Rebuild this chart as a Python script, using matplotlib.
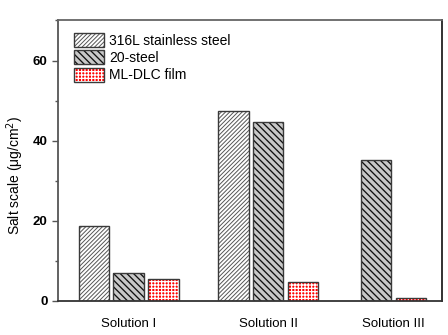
import numpy as np
import matplotlib
matplotlib.use("Agg")
import matplotlib.pyplot as plt
from matplotlib.patches import Patch
from matplotlib.ticker import MultipleLocator

plt.rcParams['font.family'] = ['Liberation Sans', 'DejaVu Sans']
plt.rcParams['hatch.linewidth'] = 0.9

# salt scale per solution, ug/cm^2 (no 316L result for Solution III)
solutions = ["Solution I", "Solution II", "Solution III"]
steel_316l = [18.6, 47.4, None]
steel_20 = [7.1, 44.7, 35.2]
ml_dlc = [5.4, 4.8, 0.8]

group_x = [0.0, 1.0, 1.9]
width = 0.22
step = 0.25
edge = "#3a3a3a"

# face, hatch, hatch colour, hatch linewidth
styles = [("white", "////////", "#555555", 0.7),
          ("#c8c8c8", "\\\\\\\\\\", "#111111", 0.95),
          ("#ff0000", "+++++", "white", 0.9)]

fig = plt.figure(figsize=(4.48, 3.35), dpi=100)
ax = fig.add_axes([0.129, 0.1015, 0.858, 0.8375])

def set_hlw(patch, lw):
    if hasattr(patch, "set_hatch_linewidth"):
        patch.set_hatch_linewidth(lw)

def draw_bar(x, h, face, hatch, hcolor, hlw):
    # hatch colour follows edgecolor, so fill+hatch first, outline on top
    bars = ax.bar(x, h, width, color=face, hatch=hatch, edgecolor=hcolor, linewidth=0, zorder=2)
    for b in bars:
        set_hlw(b, hlw)
    ax.bar(x, h, width, fill=False, edgecolor=edge, linewidth=1.0, zorder=3)

for gx, a, b, c in zip(group_x, steel_316l, steel_20, ml_dlc):
    present = [(h, st) for h, st in zip([a, b, c], styles) if h is not None]
    offsets = (np.arange(len(present)) - (len(present) - 1) / 2) * step
    for off, (h, st) in zip(offsets, present):
        draw_bar(gx + off, h, *st)

ax.set_xlim(-0.51, 2.25)
ax.set_ylim(0, 70)
ax.set_xticks(group_x)
ax.set_xticklabels(solutions, fontsize=9.5)
ax.tick_params(axis='x', length=0, pad=12)
ax.yaxis.set_major_locator(MultipleLocator(20))
ax.yaxis.set_minor_locator(MultipleLocator(10))
ax.tick_params(axis='y', which='major', direction='out', length=4, width=1, labelsize=9.5, color="#555555")
ax.tick_params(axis='y', which='minor', direction='out', length=2.5, width=1, color="#555555")
for lbl in ax.get_yticklabels():
    lbl.set_fontweight('bold')

for side, col in [("left", "#555555"), ("bottom", "#333333"), ("top", "#666666"), ("right", "#222222")]:
    ax.spines[side].set_color(col)
    ax.spines[side].set_linewidth(1.3)

ax.set_ylabel("Salt scale (\u03bcg/cm$^2$)", fontsize=10)
ax.yaxis.set_label_coords(-0.083, 0.446)

labels = ["316L stainless steel", "20-steel", "ML-DLC film"]
handles = [Patch(facecolor=f, edgecolor=hc, hatch=ht, label=lb) for (f, ht, hc, _), lb in zip(styles, labels)]
leg = ax.legend(handles=handles, loc="upper left", bbox_to_anchor=(0.02, 0.985), frameon=False,
                fontsize=10, handlelength=2.2, handleheight=1.15, handletextpad=0.35,
                labelspacing=0.2, borderaxespad=0.2)
for p, st in zip(leg.get_patches(), styles):
    p.set_linewidth(0)
    set_hlw(p, st[3])
# outline the legend keys
fig.canvas.draw()
for p in leg.get_patches():
    bb = p.get_window_extent()
    r = plt.Rectangle((bb.x0, bb.y0), bb.width, bb.height, fill=False, edgecolor=edge,
                      linewidth=1.0, transform=None, figure=fig)
    fig.patches.append(r)

fig.savefig("out.png", dpi=100)
